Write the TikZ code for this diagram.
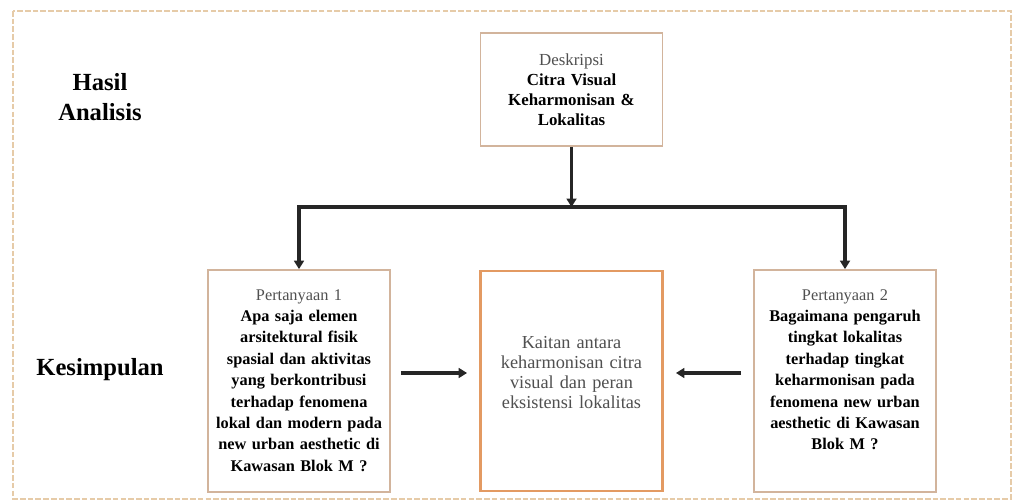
\documentclass[tikz,border=0pt]{standalone}
\usepackage{fontspec}
\setmainfont{Liberation Serif}
\usetikzlibrary{arrows.meta, positioning}
\definecolor{boxedge}{HTML}{D2B49C}
\definecolor{focusedge}{HTML}{E39A62}
\definecolor{frameedge}{HTML}{E6CBA8}
\definecolor{txtgray}{HTML}{505050}

\begin{document}
\begin{tikzpicture}[
        x=0.025cm, y=-0.025cm,
        box/.style={rectangle, draw=boxedge, line width=1.2pt, fill=white, minimum width=4.55cm, inner sep=0pt},
        focus/.style={box, draw=focusedge, line width=2pt},
        flow/.style={-{Triangle[length=6pt, width=7pt]}, line width=2.2pt, draw=black!85},
        heading/.style={font=\fontsize{17.5}{21}\selectfont\bfseries, align=center},
        qtext/.style={text width=4.3cm, align=center, font=\fontsize{11.6}{15.2}\selectfont, inner sep=0pt}
    ]
        \useasboundingbox (0,0) rectangle (1016,503);
        \draw[frameedge, line width=0.8pt, dash pattern=on 4pt off 1.5pt] (13,11) rectangle (1011,499);
        \node[heading] (hasil) at (100,97) {Hasil\\ Analisis};
        \node[heading] (simpul) at (100,370) {Kesimpulan};
        \node[box, minimum height=2.825cm, text width=4.3cm, align=center, font=\fontsize{12}{14.2}\selectfont] (desc) at (571.5,89.5) {\textcolor{txtgray}{Deskripsi}\\ \bfseries Citra Visual\\ Keharmonisan \&\\ Lokalitas};
        \node[box, minimum height=5.55cm] (q1) at (299,381) {};
        \node[focus, minimum height=5.5cm] (link) at (571.5,381) {};
        \node[box, minimum height=5.55cm] (q2) at (845,381) {};
        \node[qtext, below=0.5cm of q1.north] (q1text) {\textcolor{txtgray}{Pertanyaan 1}\\ \bfseries Apa saja elemen\\ arsitektural fisik\\ spasial dan aktivitas\\ yang berkontribusi\\ terhadap fenomena\\ lokal dan modern pada\\ new urban aesthetic di\\ Kawasan Blok M ?};
        \node[qtext, below=0.5cm of q2.north] (q2text) {\textcolor{txtgray}{Pertanyaan 2}\\ \bfseries Bagaimana pengaruh\\ tingkat lokalitas\\ terhadap tingkat\\ keharmonisan pada\\ fenomena new urban\\ aesthetic di Kawasan\\ Blok M ?};
        \node[qtext, text=txtgray, font=\fontsize{13}{14.2}\selectfont] (linktext) at ([yshift=0.22cm]link.center) {Kaitan antara\\ keharmonisan citra\\ visual dan peran\\ eksistensi lokalitas};
        \coordinate (split) at (571.5,207);
        \draw[flow] (desc) -- (split);
        \draw[flow] (split) -| (q1);
        \draw[flow] (split) -| (q2);
        \draw[flow, shorten <=0.25cm, shorten >=0.3cm] ([yshift=0.2cm]q1.east) -- ([yshift=0.2cm]link.west);
        \draw[flow, shorten <=0.3cm, shorten >=0.3cm] ([yshift=0.2cm]q2.west) -- ([yshift=0.2cm]link.east);
    \end{tikzpicture}
\end{document}
